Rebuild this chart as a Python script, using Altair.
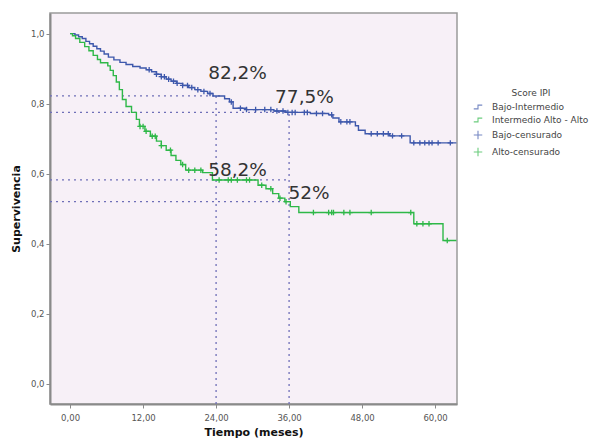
import altair as alt
import numpy as np
import pandas as pd

# Kaplan-Meier steps (time in months, cumulative survival)
bajo_t = [0, 0.8, 1.4, 2.0, 2.6, 3.2, 3.8, 4.4, 5.0, 5.6, 6.3, 7.2, 8.2, 9.2, 10.3,
          11.5, 12.5, 13.4, 14.2, 15.0, 15.8, 16.6, 17.5, 18.5, 19.5, 20.5, 21.5,
          22.6, 23.5, 25.4, 26.2, 26.8, 29.0, 33.5, 35.5, 39.5, 42.5, 43.2, 44.2,
          46.9, 47.4, 48.5, 52.5, 55.9, 63.5]
bajo_s = [1.0, 0.996, 0.991, 0.986, 0.978, 0.971, 0.964, 0.957, 0.950, 0.942, 0.933,
          0.925, 0.918, 0.912, 0.906, 0.902, 0.897, 0.891, 0.884, 0.877, 0.870,
          0.864, 0.858, 0.852, 0.846, 0.840, 0.835, 0.829, 0.822, 0.814, 0.805,
          0.787, 0.783, 0.779, 0.775, 0.772, 0.768, 0.759, 0.748, 0.737, 0.724,
          0.714, 0.708, 0.688, 0.688]

alto_t = [0, 0.4, 0.9, 1.6, 2.4, 3.1, 3.8, 4.5, 5.0, 6.2, 6.6, 7.1, 7.6, 8.1, 8.6,
          9.2, 10.1, 10.9, 11.4, 12.3, 13.2, 14.2, 15.0, 15.8, 16.6, 17.4, 18.2,
          19.0, 21.8, 23.4, 30.9, 32.2, 33.3, 34.3, 35.3, 36.2, 37.6, 56.5, 61.3,
          63.5]
alto_s = [1.0, 0.994, 0.986, 0.975, 0.963, 0.951, 0.938, 0.926, 0.917, 0.908, 0.895,
          0.880, 0.862, 0.840, 0.812, 0.792, 0.775, 0.755, 0.735, 0.721, 0.707,
          0.693, 0.680, 0.667, 0.652, 0.638, 0.626, 0.610, 0.603, 0.582, 0.567,
          0.557, 0.543, 0.530, 0.520, 0.506, 0.489, 0.457, 0.409, 0.409]

# Censored observations (months)
bajo_cens = [13.0, 14.2, 15.0, 15.5, 16.2, 17.0, 17.6, 18.5, 19.3, 20.0, 21.0, 22.0,
             23.0, 26.5, 28.0, 29.0, 30.5, 32.0, 33.0, 34.0, 35.0, 35.8, 36.5, 37.0,
             38.5, 39.0, 40.5, 41.5, 43.0, 44.5, 45.5, 46.0, 49.5, 50.5, 51.5, 52.3,
             53.0, 54.5, 56.5, 57.5, 58.3, 59.0, 59.5, 60.5, 62.5]
alto_cens = [11.5, 12.0, 12.5, 13.5, 14.0, 15.0, 16.5, 18.5, 19.5, 20.5, 21.5, 24.5,
             26.0, 26.5, 27.5, 29.0, 29.5, 31.5, 33.0, 34.5, 35.5, 40.0, 42.5, 43.0,
             43.3, 45.0, 46.0, 49.5, 56.0, 57.0, 58.0, 59.0, 62.0]

# Survival read at 24 and 36 months
ref_surv = [0.822, 0.582, 0.775, 0.52]
ref_hline_end = [25.0, 36, 36, 36]
ref_labels = ["82,2%", "58,2%", "77,5%", "52%"]
label_x = [22.7, 22.7, 33.7, 35.9]
label_y = [0.871, 0.594, 0.803, 0.529]

legend_names = ["Bajo-Intermedio", "Intermedio Alto - Alto", "Bajo-censurado", "Alto-censurado"]
BLUE = "#3E58AC"
GREEN = "#2EB848"
REF = "#6F6FB8"

XDOM = [-3.3, 63.6]
YDOM = [-0.058, 1.059]
xs = alt.Scale(domain=XDOM, nice=False, zero=False)
ys = alt.Scale(domain=YDOM, nice=False, zero=False)


def censor_frame(times, steps_t, steps_s):
    idx = np.searchsorted(np.array(steps_t), np.array(times), side="right") - 1
    return pd.DataFrame({"t": times, "s": np.array(steps_s)[idx]})


curves = pd.concat([
    pd.DataFrame({"t": bajo_t, "s": bajo_s, "g": "bajo"}),
    pd.DataFrame({"t": alto_t, "s": alto_s, "g": "alto"}),
])
cens = pd.concat([
    censor_frame(bajo_cens, bajo_t, bajo_s).assign(g="bajo"),
    censor_frame(alto_cens, alto_t, alto_s).assign(g="alto"),
])

hlines = pd.DataFrame({"x0": XDOM[0], "x1": ref_hline_end, "y": ref_surv})
vlines = pd.DataFrame({"x": [24, 36], "y0": YDOM[0], "y1": [0.822, 0.775]})
labels = pd.DataFrame({"txt": ref_labels, "x": label_x, "y": label_y})
legend_df = pd.DataFrame({"name": legend_names, "t": -100, "s": -100})

grp_color = alt.Color("g:N", scale=alt.Scale(domain=["bajo", "alto"], range=[BLUE, GREEN]), legend=None)

x_axis = alt.Axis(values=[0, 12, 24, 36, 48, 60], labelExpr="replace(format(datum.value, '.2f'), '.', ',')",
                  title="Tiempo (meses)", labelPadding=5, titlePadding=5)
y_axis = alt.Axis(values=[0, 0.2, 0.4, 0.6, 0.8, 1.0], labelExpr="replace(format(datum.value, '.1f'), '.', ',')",
                  title="Supervivencia", titlePadding=9)

curve_lines = alt.Chart(curves).mark_line(interpolate="step-after", strokeWidth=1.4, clip=True).encode(
    x=alt.X("t:Q", scale=xs, axis=x_axis),
    y=alt.Y("s:Q", scale=ys, axis=y_axis),
    color=grp_color,
    detail="g:N",
)

plus_path = "M-1,0H1M0,-1V1"
step_path = "M-1,0.45H0V-0.45H1"

cens_marks = alt.Chart(cens).mark_point(shape=plus_path, filled=False, size=30, strokeWidth=1.3, opacity=1).encode(
    x=alt.X("t:Q", scale=xs), y=alt.Y("s:Q", scale=ys), color=grp_color,
)

h_ref = alt.Chart(hlines).mark_rule(color=REF, strokeDash=[2, 4], strokeWidth=1.3).encode(
    x=alt.X("x0:Q", scale=xs), x2="x1:Q", y=alt.Y("y:Q", scale=ys),
)
v_ref = alt.Chart(vlines).mark_rule(color=REF, strokeDash=[2, 4], strokeWidth=1.3).encode(
    x=alt.X("x:Q", scale=xs), y=alt.Y("y0:Q", scale=ys), y2="y1:Q",
)

pct = alt.Chart(labels).mark_text(align="left", baseline="alphabetic", font="DejaVu Sans",
                                  fontSize=18.5, color="#333333").encode(
    x=alt.X("x:Q", scale=xs), y=alt.Y("y:Q", scale=ys), text="txt:N",
)

legend_layer = alt.Chart(legend_df).mark_point(filled=False, clip=True, strokeWidth=1.1).encode(
    x=alt.X("t:Q", scale=xs), y=alt.Y("s:Q", scale=ys),
    color=alt.Color("name:N", scale=alt.Scale(domain=legend_names, range=[BLUE, GREEN, BLUE, GREEN]),
                    legend=alt.Legend(title="Score IPI", orient="none", legendX=423, legendY=76,
                                      titleAnchor="middle", titleFont="DejaVu Sans", titleFontSize=9,
                                      titleFontWeight="normal", titleColor="#444", titlePadding=4,
                                      labelFont="DejaVu Sans", labelFontSize=9, labelColor="#444",
                                      labelOffset=9, symbolSize=72, symbolStrokeWidth=1.1,
                                      rowPadding=3, labelLimit=200)),
    shape=alt.Shape("name:N", scale=alt.Scale(domain=legend_names,
                                              range=[step_path, step_path, plus_path, plus_path]), legend=None),
)

chart = alt.layer(h_ref, v_ref, curve_lines, cens_marks, pct, legend_layer).resolve_scale(
    color="independent", shape="independent"
).properties(
    width=407, height=391,
    autosize=alt.AutoSizeParams(type="none"),
    padding={"left": 50, "top": 13, "right": 135, "bottom": 37},
    background="white",
).configure_view(
    fill="#F7F0F7", stroke="#9a9a9a", strokeWidth=1.5,
).configure_axis(
    grid=False, domainColor="#8a8a8a", domainWidth=2, tickColor="#8a8a8a", tickSize=4,
    labelFont="DejaVu Sans", labelFontSize=8.5, labelColor="#555555", labelPadding=2,
    titleFont="DejaVu Sans", titleFontSize=11, titleFontWeight="bold", titleColor="#111111",
)

chart.save("out.html", embed_options={"renderer": "svg", "actions": False})
